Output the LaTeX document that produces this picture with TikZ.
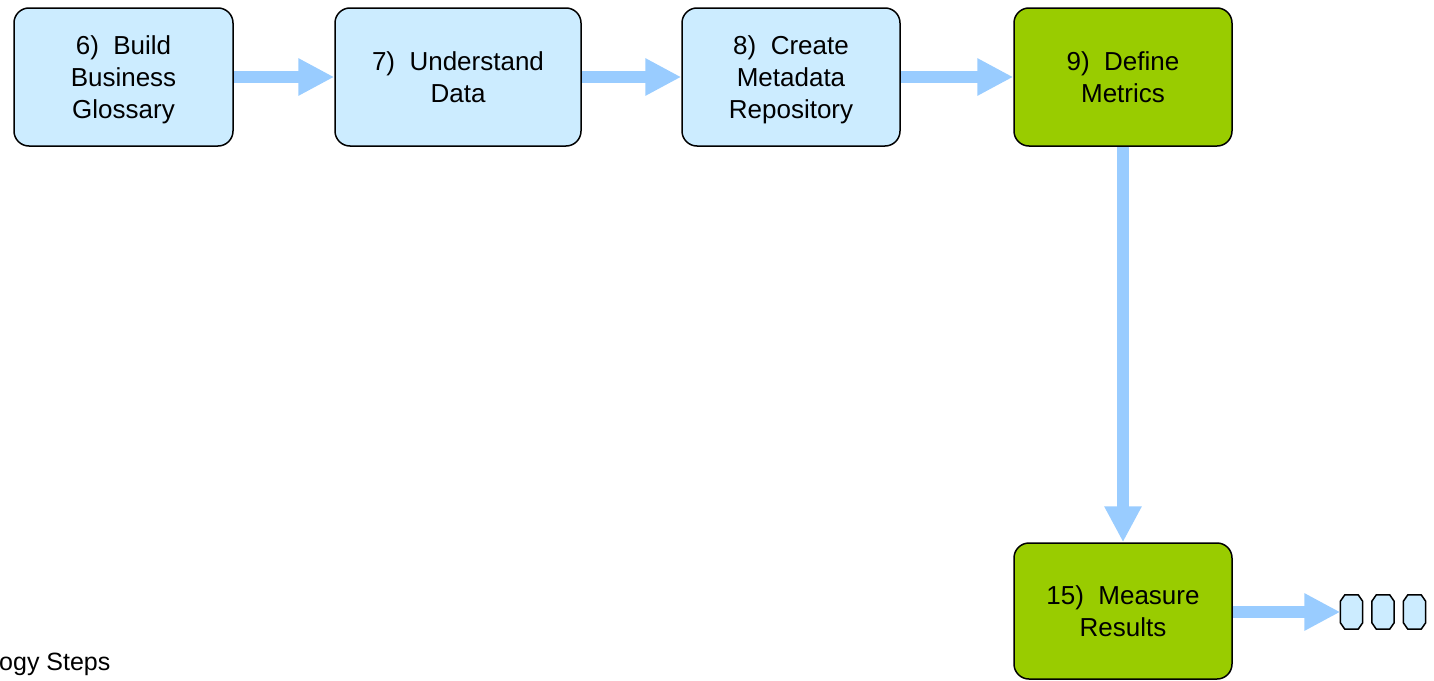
\documentclass[tikz,border=0pt]{standalone}
\usepackage{fontspec}
\setmainfont{Liberation Sans}
\usetikzlibrary{arrows.meta,calc}
\definecolor{boxblue}{HTML}{CCECFF}
\definecolor{boxgreen}{HTML}{99CC00}
\definecolor{arrowblue}{HTML}{99CCFF}
\newcommand\drawocto[1]{%
  \draw[draw=black, line width=1.5pt, fill=boxblue, line join=round]
    ($(#1.north west)+(4.5,0)$) -- ($(#1.north east)+(-4.5,0)$)
    -- ($(#1.north east)+(0,-6.5)$) -- ($(#1.south east)+(0,6.5)$)
    -- ($(#1.south east)+(-4.5,0)$) -- ($(#1.south west)+(4.5,0)$)
    -- ($(#1.south west)+(0,6.5)$) -- ($(#1.north west)+(0,-6.5)$) -- cycle;}
\begin{document}
\begin{tikzpicture}[x=1pt,y=1pt,
  stepbox/.style={draw=black, line width=1.5pt, rounded corners=15pt, fill=boxblue,
    align=center, font=\fontsize{26}{32}\selectfont, inner sep=0pt, text depth=-3pt},
  greenbox/.style={stepbox, fill=boxgreen},
  flow/.style={draw=arrowblue, line width=12.5pt,
    -{Triangle[width=35pt,length=36pt]}, arrowblue},
  octo/.style={minimum width=22pt, minimum height=34pt, inner sep=0pt}
  ]
\useasboundingbox (0,0) rectangle (1434,-680);
\node[stepbox, minimum width=219pt, minimum height=138pt] (b6) at (123.5,-77) {6)~~Build\\Business\\Glossary};
\node[stepbox, minimum width=246pt, minimum height=138pt] (b7) at (458,-77) {7)~~Understand\\Data};
\node[stepbox, minimum width=218pt, minimum height=138pt] (b8) at (791,-77) {8)~~Create\\Metadata\\Repository};
\node[greenbox, minimum width=218pt, minimum height=138pt] (b9) at (1123,-77) {9)~~Define\\Metrics};
\node[greenbox, minimum width=218pt, minimum height=136pt] (b15) at (1123,-611) {15)~~Measure\\Results};
\node[octo] (o1) at (1351.5,-612) {};
\node[octo] (o2) at (1383,-612) {};
\node[octo] (o3) at (1414.5,-612) {};
\drawocto{o1}\drawocto{o2}\drawocto{o3}
\node[anchor=base west, inner sep=0pt, font=\fontsize{25}{30}\selectfont] (lbl) at (-1,-670) {ogy Steps};
\draw[flow] (b6.east) -- (b7.west);
\draw[flow] (b7.east) -- (b8.west);
\draw[flow] (b8.east) -- (b9.west);
\draw[flow] (b9.south) -- (b15.north);
\draw[flow] (b15.east |- o1.west) -- (o1.west);
\end{tikzpicture}
\end{document}
